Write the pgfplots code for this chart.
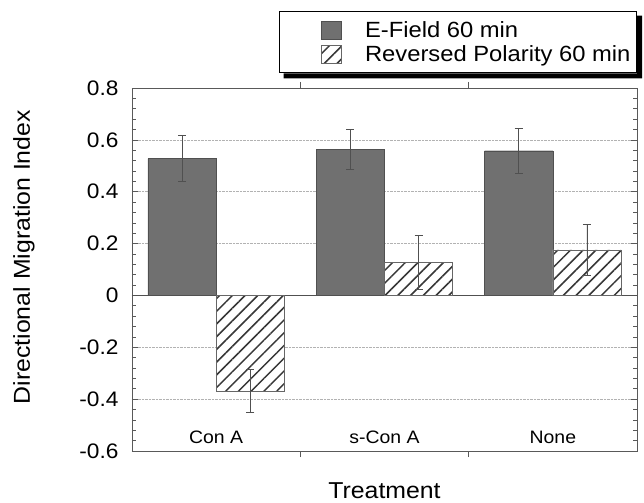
\documentclass[border=0pt]{standalone}
\usepackage{fontspec}
\setmainfont{Liberation Sans}[FakeStretch=1.08]
\usepackage{pgfplots}
\usepackage{pgfplotstable}
\pgfplotsset{compat=1.18}
\usetikzlibrary{patterns.meta}

\definecolor{efield}{RGB}{112,112,112}
\definecolor{edgegray}{RGB}{80,80,80}
\definecolor{hatch}{RGB}{55,55,55}

% treatment index, E-field mean/err, reversed polarity mean/err
\pgfplotstableread{
x  ef     eferr  rev     reverr
0  0.528  0.088  -0.368  0.082
1  0.564  0.077   0.128  0.105
2  0.558  0.087   0.176  0.097
}\migdata

\begin{document}
\begin{tikzpicture}
\begin{axis}[
    at={(0,0)}, anchor=south west,
    scale only axis, width=505pt, height=363pt,
    xmin=-0.5, xmax=2.5, ymin=-0.6, ymax=0.8,
    ybar=0pt, bar width=0.405,
    xtick={0.5,1.5}, xticklabels={},
    ytick={-0.6,-0.4,-0.2,0,0.2,0.4,0.6,0.8},
    minor y tick num=4,
    major tick length=6pt, minor tick length=4pt,
    tick style={gray!70!black, line width=0.6pt},
    ymajorgrids, major grid style={densely dotted, gray!60, line width=0.6pt},
    axis line style={gray!70!black, line width=0.8pt},
    /pgf/number format/assume math mode=true,
    /pgf/number format/fixed,
    yticklabel style={font=\fontsize{21}{21}\selectfont, xshift=-10pt},
    xlabel={Treatment},
    xlabel style={font=\fontsize{23}{24}\selectfont, at={(axis description cs:0.5,0)}, anchor=center, yshift=-40pt},
    ylabel={Directional Migration Index},
    ylabel style={font=\fontsize{23}{24}\selectfont, at={(axis description cs:-0.214,0.534)}, anchor=center},
    error bars/y dir=both, error bars/y explicit,
    error bars/error bar style={edgegray, line width=0.8pt},
    error bars/error mark options={rotate=90, mark size=4pt, edgegray, line width=0.8pt},
    legend cell align=left,
    legend style={name=leg, at={(1,1.04)}, anchor=south east, draw=black, line width=1pt, fill=white,
        font=\fontsize{22}{22}\selectfont, row sep=3pt, inner ysep=8pt, inner xsep=4pt},
    every axis plot post/.append style={
        legend image code/.code={
            \path (-38pt,0pt) (41pt,0pt);
            \draw[#1, line width=0.6pt] (0pt,-9pt) rectangle (20pt,9pt);
        }},
]
\draw[edgegray, line width=0.8pt] (axis cs:-0.5,0) -- (axis cs:2.5,0);
\addplot[fill=efield, draw=edgegray] table[x=x, y=ef, y error=eferr] {\migdata};
\addplot[draw=gray!80!black, preaction={fill=white},
    pattern={Lines[angle=45, distance=9pt, line width=1.5pt]}, pattern color=hatch]
    table[x=x, y=rev, y error=reverr] {\migdata};
\legend{E-Field 60 min, Reversed Polarity 60 min}
\node[font=\fontsize{18}{18}\selectfont] at (axis cs:0,-0.546) {Con A};
\node[font=\fontsize{18}{18}\selectfont] at (axis cs:1,-0.546) {s-Con A};
\node[font=\fontsize{18}{18}\selectfont] at (axis cs:2,-0.546) {None};
\end{axis}
% drop shadow of the legend box
\fill[black] ([xshift=5pt]leg.south west) -- ([xshift=5pt,yshift=-5pt]leg.south west)
    -- ([xshift=5pt,yshift=-5pt]leg.south east) -- ([xshift=5pt,yshift=-5pt]leg.north east)
    -- ([yshift=-5pt]leg.north east) -- (leg.south east) -- cycle;
\path (-132pt,-51pt) rectangle (512pt,451pt);
\end{tikzpicture}
\end{document}
